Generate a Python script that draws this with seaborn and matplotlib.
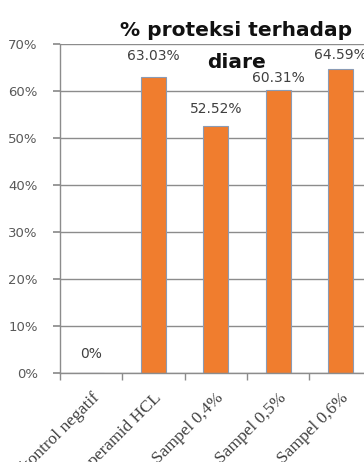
import matplotlib
matplotlib.use("Agg")
import matplotlib.pyplot as plt
import seaborn as sns
import pandas as pd

categories = ["kontrol negatif", "Loperamid HCL", "Sampel 0,4%", "Sampel 0,5%", "Sampel 0,6%"]
values = [0.0, 63.03, 52.52, 60.31, 64.59]
value_labels = ["0%", "63.03%", "52.52%", "60.31%", "64.59%"]
y_ticks = [0, 10, 20, 30, 40, 50, 60, 70]

# label offsets above bars (points) - styling only
label_offsets = [14, 15, 12, 8.5, 10.5]

sns.set_theme(style="white")
plt.rcParams['font.family'] = ['DejaVu Sans']

df = pd.DataFrame({"cat": categories, "val": values})

fig = plt.figure(figsize=(3.64, 4.62), dpi=100)
ax = fig.add_axes([60/364, 89/462, 311.5/364, 329/462])

sns.barplot(data=df, x="cat", y="val", ax=ax, color="#F07D2E", width=0.4,
            edgecolor="#8A9BB5", linewidth=0.8, saturation=1)

ax.set_ylim(0, 70)
ax.set_xlim(-0.5, len(categories) - 0.5)
ax.set_yticks(y_ticks)
ax.set_yticklabels([f"{t}%" for t in y_ticks], fontsize=9.5, color="#595959")
ax.yaxis.grid(True, color="#8C8C8C", linewidth=1)
ax.set_axisbelow(True)
ax.set_xlabel("")
ax.set_ylabel("")

for s in ["top", "right"]:
    ax.spines[s].set_visible(False)
for s in ["left", "bottom"]:
    ax.spines[s].set_color("#8C8C8C")
    ax.spines[s].set_linewidth(1)

# ticks
ax.tick_params(axis="y", which="major", left=True, length=5, color="#8C8C8C", pad=11)
ax.set_xticks(range(len(categories)))
ax.set_xticklabels(categories, rotation=45, ha="right", rotation_mode="anchor",
                   family="Liberation Serif", fontsize=12.5, color="#404040")
ax.tick_params(axis="x", which="major", bottom=False, pad=6)
ax.set_xticks([i - 0.5 for i in range(len(categories) + 1)], minor=True)
ax.tick_params(axis="x", which="minor", bottom=True, length=5, color="#8C8C8C")

for i, (v, lab, off) in enumerate(zip(values, value_labels, label_offsets)):
    ax.annotate(lab, (i, v), xytext=(0, off), textcoords="offset points",
                ha="center", va="center", fontsize=10, color="#404040")

fig.text(236/364, 1 - 30/462, "% proteksi terhadap", ha="center", va="center",
         fontsize=14.5, fontweight="bold", color="#111111")
fig.text(236/364, 1 - 63/462, "diare", ha="center", va="center",
         fontsize=14.5, fontweight="bold", color="#111111")

fig.savefig("out.png", dpi=100)
